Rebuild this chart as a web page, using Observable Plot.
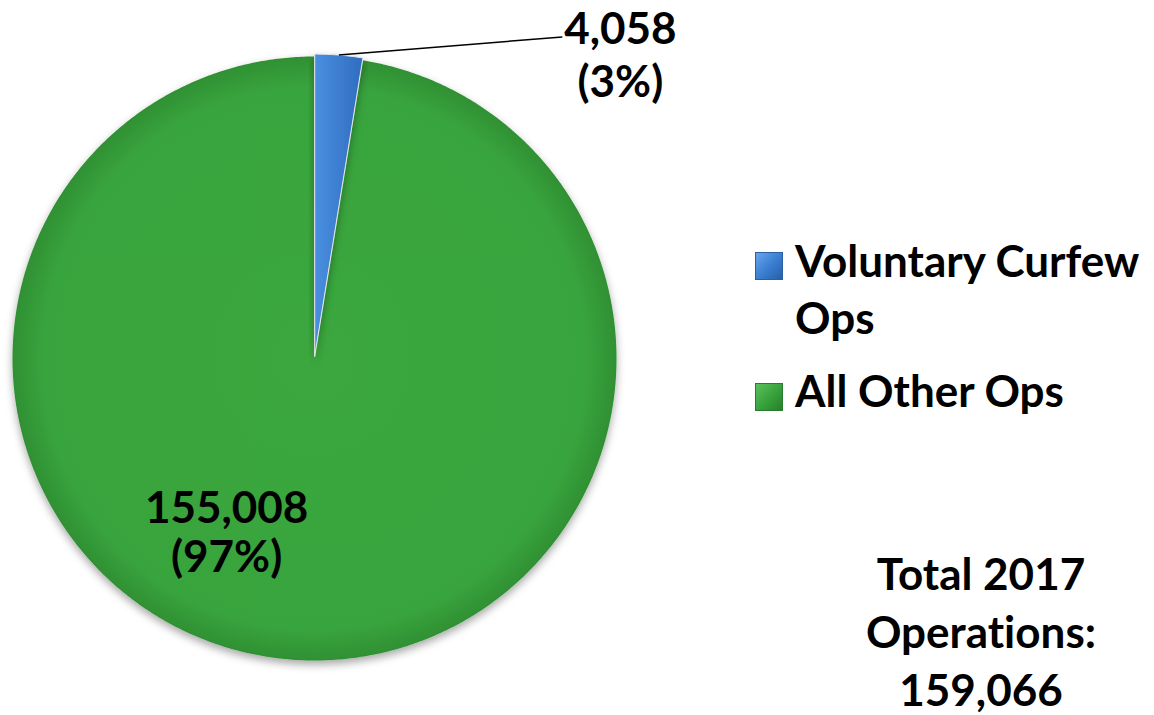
<!DOCTYPE html>
<html><head><meta charset="utf-8">
<script src="https://cdn.jsdelivr.net/npm/d3@7"></script>
<script src="https://cdn.jsdelivr.net/npm/@observablehq/plot@0.6"></script>
<style>
body{margin:0;background:#fff;font-family:Lato,"Open Sans",sans-serif;font-variant-ligatures:none;}
svg text{font-variant-ligatures:none;}
#wrap{position:relative;width:1154px;height:715px;overflow:hidden;}
.t{position:absolute;font-weight:700;font-size:44px;color:#000;white-space:nowrap;font-family:Lato,sans-serif;font-variant-ligatures:none;font-feature-settings:"liga" 0,"clig" 0;}
.sw{position:absolute;width:28px;height:28px;box-sizing:border-box;}
</style></head><body><div id="wrap"></div>
<script>
const categories = ["Voluntary Curfew Ops", "All Other Ops"];
const legendLines = [["Voluntary Curfew", "Ops"], ["All Other Ops"]];
const values = [4058, 155008];
const valueLabels = ["4,058", "155,008"];
const percentLabels = ["(3%)", "(97%)"];
const sliceColors = ["#3b7fd3", "#39a43d"];
const totalLines = ["Total 2017", "Operations:", "159,066"];

const pie = d3.pie().sort(null)(values);
const explode = [0.008, 0];
const slices = pie.map((p, i) => {
  const mid = (p.startAngle + p.endAngle) / 2;
  return {i, start: p.startAngle, end: p.endAngle, mid, ox: explode[i] * Math.sin(mid), oy: explode[i] * Math.cos(mid)};
});
const pts = [];
for (const s of slices) {
  pts.push({slice: s.i, x: s.ox, y: s.oy});
  const n = Math.max(4, Math.ceil((s.end - s.start) / (Math.PI / 360)));
  for (let k = 0; k <= n; k++) {
    const a = s.start + (s.end - s.start) * k / n;
    pts.push({slice: s.i, x: s.ox + Math.sin(a), y: s.oy + Math.cos(a)});
  }
  pts.push({slice: s.i, x: s.ox, y: s.oy});
}
const blue = slices[0], green = slices[1];
const leader = [{
  x1: blue.ox + Math.sin(blue.mid), y1: blue.oy + Math.cos(blue.mid),
  x2: blue.ox + Math.sin(blue.mid) + 0.74, y2: blue.oy + Math.cos(blue.mid) + 0.06
}];
const labelBlue = [{x: leader[0].x2, y: leader[0].y2, text: valueLabels[0] + "\n" + percentLabels[0]}];
const labelGreen = [{x: 0.45 * Math.sin(green.mid), y: 0.45 * Math.cos(green.mid), text: valueLabels[1] + "\n" + percentLabels[1]}];

const chart = Plot.plot({
  width: 1154, height: 715, margin: 0,
  x: {domain: [-1, 1], range: [12, 616], axis: null},
  y: {domain: [-1, 1], range: [660, 56], axis: null},
  style: {background: "transparent", overflow: "visible"},
  marks: [
    Plot.line(pts.filter(d => d.slice === 1), {x: "x", y: "y", fill: "url(#gGreen)", stroke: "none", curve: "linear"}),
    Plot.line(pts.filter(d => d.slice === 0), {x: "x", y: "y", fill: "url(#gBlue)", stroke: "#e8e8e8", strokeWidth: 1, curve: "linear"}),
    Plot.link(leader, {x1: "x1", y1: "y1", x2: "x2", y2: "y2", stroke: "#000", strokeWidth: 1.5}),
    Plot.text(labelBlue, {x: "x", y: "y", text: "text", textAnchor: "middle", lineAnchor: "top", dx: 58, dy: -30, lineHeight: 1.2, fontSize: 44, fontWeight: 700, fontFamily: "Lato", fill: "#000"}),
    Plot.text(labelGreen, {x: "x", y: "y", text: "text", textAnchor: "middle", lineAnchor: "top", dx: -77, dy: -5, lineHeight: 1.1, fontSize: 44, fontWeight: 700, fontFamily: "Lato", fill: "#000"})
  ]
});
const cx = chart.scale("x").apply(0), cy = chart.scale("y").apply(0);
const R = chart.scale("x").apply(1) - cx;
const svg = d3.select(chart);
const defs = svg.insert("defs", ":first-child");
const gg = defs.append("radialGradient").attr("id", "gGreen").attr("gradientUnits", "userSpaceOnUse")
  .attr("cx", cx).attr("cy", cy).attr("r", R);
gg.append("stop").attr("offset", 0).attr("stop-color", "#3aa73e");
gg.append("stop").attr("offset", 0.9).attr("stop-color", "#39a43d");
gg.append("stop").attr("offset", 1).attr("stop-color", "#2f9033");
const gb = defs.append("linearGradient").attr("id", "gBlue").attr("x1", 0).attr("x2", 1).attr("y1", 0).attr("y2", 0);
gb.append("stop").attr("offset", 0).attr("stop-color", "#4a8fe0");
gb.append("stop").attr("offset", 1).attr("stop-color", "#2f6cbf");
const f = defs.append("filter").attr("id", "sh").attr("x", "-10%").attr("y", "-10%").attr("width", "120%").attr("height", "120%");
f.append("feDropShadow").attr("dx", 0).attr("dy", 4).attr("stdDeviation", 4).attr("flood-color", "#000").attr("flood-opacity", 0.35);
svg.selectAll('g[aria-label="line"]').attr("filter", "url(#sh)");
svg.selectAll("text").style("font-variant-ligatures", "none");

const wrap = document.getElementById("wrap");
wrap.appendChild(chart);
chart.style.position = "absolute"; chart.style.left = "0"; chart.style.top = "0";

const swatchBg = [
  "linear-gradient(135deg,#6aa6ec 0%,#3b7fd3 50%,#285fa8 100%)",
  "linear-gradient(135deg,#5cc060 0%,#39a43d 50%,#25802a 100%)"
];
const legendTops = [232, 362];
const swTops = [252, 383];
categories.forEach((c, i) => {
  const sw = document.createElement("div");
  sw.className = "sw";
  sw.style.left = "755px"; sw.style.top = swTops[i] + "px";
  sw.style.background = swatchBg[i];
  sw.style.border = "1px solid " + d3.color(sliceColors[i]).darker(0.8);
  sw.title = c;
  wrap.appendChild(sw);
  const t = document.createElement("div");
  t.className = "t";
  t.style.left = "795px"; t.style.top = legendTops[i] + "px"; t.style.lineHeight = "57px";
  t.innerHTML = legendLines[i].join("<br>");
  wrap.appendChild(t);
});
const tot = document.createElement("div");
tot.className = "t";
tot.style.left = "881px"; tot.style.width = "200px"; tot.style.textAlign = "center";
tot.style.top = "544px"; tot.style.lineHeight = "58px";
tot.style.display = "flex"; tot.style.flexDirection = "column"; tot.style.alignItems = "center";
tot.innerHTML = totalLines.map(s => "<span>" + s + "</span>").join("");
wrap.appendChild(tot);
</script></body></html>
